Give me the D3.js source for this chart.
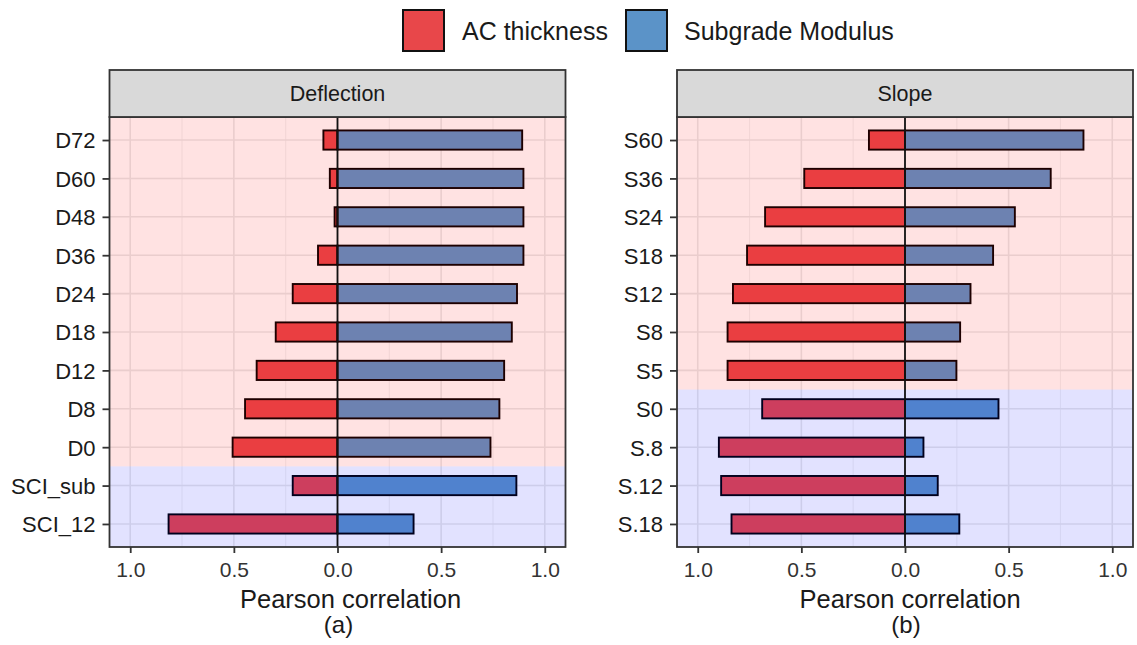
<!DOCTYPE html>
<html>
<head>
<meta charset="utf-8">
<script src="https://cdn.jsdelivr.net/npm/d3@7"></script>
<style>
  html, body { margin: 0; padding: 0; background: #ffffff; }
  svg { display: block; font-family: "Liberation Sans", Arial, sans-serif; }
</style>
</head>
<body>
<svg id="chart" width="1137" height="645"></svg>
<script>
// Pearson correlations of deflection-basin indices with AC thickness (negative side)
// and subgrade modulus (positive side).
const deflectionCats = ["D72", "D60", "D48", "D36", "D24", "D18", "D12", "D8", "D0", "SCI_sub", "SCI_12"];
const deflectionAC = [-0.068, -0.037, -0.014, -0.094, -0.216, -0.298, -0.390, -0.446, -0.506, -0.216, -0.815];
const deflectionSubgrade = [0.891, 0.897, 0.897, 0.897, 0.866, 0.841, 0.804, 0.781, 0.738, 0.863, 0.367];
const deflectionZones = ["a", "a", "a", "a", "a", "a", "a", "a", "a", "b", "b"];

const slopeCats = ["S60", "S36", "S24", "S18", "S12", "S8", "S5", "S0", "S.8", "S.12", "S.18"];
const slopeAC = [-0.174, -0.486, -0.675, -0.762, -0.830, -0.856, -0.856, -0.689, -0.898, -0.887, -0.837];
const slopeSubgrade = [0.861, 0.703, 0.530, 0.425, 0.316, 0.266, 0.248, 0.451, 0.089, 0.158, 0.262];
const slopeZones = ["a", "a", "a", "a", "a", "a", "a", "b", "b", "b", "b"];

const seriesNames = ["AC thickness", "Subgrade Modulus"];
const seriesColors = ["#E8474A", "#5B93C8"];
const zoneColors = { a: "#ff0000", b: "#0000ff" };
const xTicks = [-1, -0.5, 0, 0.5, 1];
const xMinorTicks = [-0.75, -0.25, 0.25, 0.75];

const svg = d3.select("#chart");

// Legend
const legend = svg.append("g");
const legendItems = [
  { name: seriesNames[0], color: seriesColors[0], x: 403, tx: 462 },
  { name: seriesNames[1], color: seriesColors[1], x: 626, tx: 684 }
];
legendItems.forEach(it => {
  legend.append("rect")
    .attr("x", it.x).attr("y", 10).attr("width", 41).attr("height", 41)
    .attr("fill", it.color).attr("stroke", "#111").attr("stroke-width", 2);
  legend.append("text")
    .attr("x", it.tx).attr("y", 39.5)
    .attr("font-size", 25).attr("fill", "#1a1a1a")
    .text(it.name);
});

function drawPanel(opts) {
  const { left, right, top, stripTop, bottom, title, cats, ac, sub, zones, caption, titleShift } = opts;
  const g = svg.append("g");

  const x = d3.scaleLinear().domain([-1.1, 1.1]).range([left, right]);
  const y = d3.scalePoint().domain(cats).range([top, bottom]).padding(0.6);
  const step = y.step();
  const barH = step * 0.5;

  // panel background
  g.append("rect").attr("x", left).attr("y", top).attr("width", right - left).attr("height", bottom - top)
    .attr("fill", "#ffffff");

  // grid
  g.selectAll(".gminor").data(xMinorTicks).join("line")
    .attr("x1", d => x(d)).attr("x2", d => x(d)).attr("y1", top).attr("y2", bottom)
    .attr("stroke", "#F2F2F2").attr("stroke-width", 1.1);
  g.selectAll(".gmajor").data(xTicks).join("line")
    .attr("x1", d => x(d)).attr("x2", d => x(d)).attr("y1", top).attr("y2", bottom)
    .attr("stroke", "#E8E8E8").attr("stroke-width", 1.6);
  g.selectAll(".gy").data(cats).join("line")
    .attr("x1", left).attr("x2", right).attr("y1", d => y(d)).attr("y2", d => y(d))
    .attr("stroke", "#E8E8E8").attr("stroke-width", 1.6);

  // bars
  const acData = cats.map((c, i) => ({ c, v: ac[i] }));
  const subData = cats.map((c, i) => ({ c, v: sub[i] }));
  g.selectAll(".bac").data(acData).join("rect")
    .attr("x", d => x(Math.min(0, d.v))).attr("width", d => Math.abs(x(d.v) - x(0)))
    .attr("y", d => y(d.c) - barH / 2).attr("height", barH)
    .attr("fill", seriesColors[0]).attr("stroke", "#000").attr("stroke-width", 1.9);
  g.selectAll(".bsub").data(subData).join("rect")
    .attr("x", d => x(Math.min(0, d.v))).attr("width", d => Math.abs(x(d.v) - x(0)))
    .attr("y", d => y(d.c) - barH / 2).attr("height", barH)
    .attr("fill", seriesColors[1]).attr("stroke", "#000").attr("stroke-width", 1.9);

  // shaded zones laid over the bars
  const zoneKeys = Array.from(new Set(zones));
  zoneKeys.forEach(k => {
    const idx = zones.map((z, i) => z === k ? i : -1).filter(i => i >= 0);
    const first = cats[idx[0]], last = cats[idx[idx.length - 1]];
    const y0 = idx[0] === 0 ? top : y(first) - step / 2;
    const y1 = idx[idx.length - 1] === cats.length - 1 ? bottom : y(last) + step / 2;
    g.append("rect").attr("x", left).attr("width", right - left).attr("y", y0).attr("height", y1 - y0)
      .attr("fill", zoneColors[k]).attr("fill-opacity", 0.115);
  });

  // zero line
  g.append("line").attr("x1", x(0)).attr("x2", x(0)).attr("y1", top).attr("y2", bottom)
    .attr("stroke", "#111").attr("stroke-width", 1.8);

  // border
  g.append("rect").attr("x", left).attr("y", top).attr("width", right - left).attr("height", bottom - top)
    .attr("fill", "none").attr("stroke", "#333").attr("stroke-width", 1.8);

  // strip
  g.append("rect").attr("x", left).attr("y", stripTop).attr("width", right - left).attr("height", top - stripTop)
    .attr("fill", "#D9D9D9").attr("stroke", "#333").attr("stroke-width", 1.8);
  g.append("text").attr("x", (left + right) / 2).attr("y", stripTop + (top - stripTop) / 2 + 7.5)
    .attr("text-anchor", "middle").attr("font-size", 21.5).attr("fill", "#1a1a1a").text(title);

  // y axis
  const yAxis = g.append("g").attr("transform", `translate(${left},0)`)
    .call(d3.axisLeft(y).tickSize(7).tickPadding(7));
  yAxis.select(".domain").remove();
  yAxis.selectAll(".tick line").attr("stroke", "#333").attr("stroke-width", 1.8);
  yAxis.selectAll(".tick text").attr("font-size", 22).attr("fill", "#1a1a1a")
    .attr("font-family", "Liberation Sans, Arial, sans-serif").attr("dy", "0.36em");

  // x axis
  const xAxis = g.append("g").attr("transform", `translate(0,${bottom})`)
    .call(d3.axisBottom(x).tickValues(xTicks).tickSize(6).tickPadding(9)
      .tickFormat(d => d3.format(".1f")(Math.abs(d))));
  xAxis.select(".domain").remove();
  xAxis.selectAll(".tick line").attr("stroke", "#333").attr("stroke-width", 1.8);
  xAxis.selectAll(".tick text").attr("font-size", 21).attr("fill", "#333")
    .attr("font-family", "Liberation Sans, Arial, sans-serif");

  // axis title and caption
  g.append("text").attr("x", (left + right) / 2 + titleShift).attr("y", 608)
    .attr("text-anchor", "middle").attr("font-size", 25.5).attr("fill", "#1a1a1a").text("Pearson correlation");
  g.append("text").attr("x", x(0) + 1).attr("y", 633)
    .attr("text-anchor", "middle").attr("font-size", 24).attr("fill", "#1a1a1a").text(caption);
}

drawPanel({ left: 109.5, right: 565.5, stripTop: 70, top: 117, bottom: 547, title: "Deflection",
  cats: deflectionCats, ac: deflectionAC, sub: deflectionSubgrade, zones: deflectionZones, caption: "(a)", titleShift: 13 });
drawPanel({ left: 677, right: 1133, stripTop: 70, top: 117, bottom: 547, title: "Slope",
  cats: slopeCats, ac: slopeAC, sub: slopeSubgrade, zones: slopeZones, caption: "(b)", titleShift: 5 });
</script>
</body>
</html>
